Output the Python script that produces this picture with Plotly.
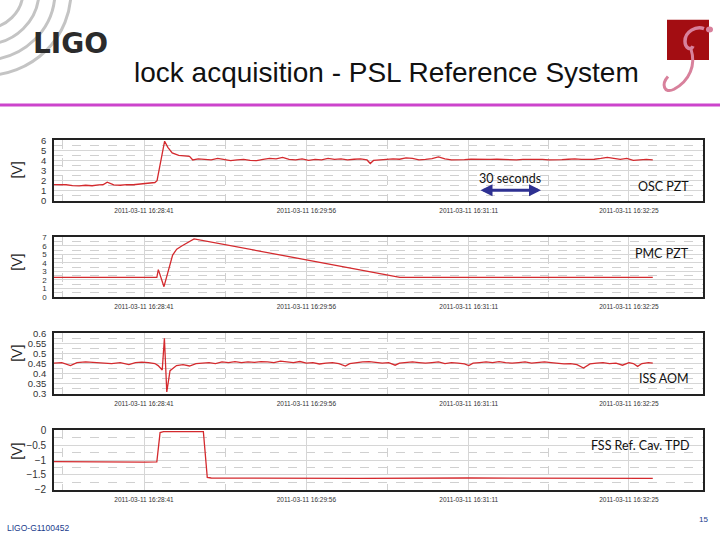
import plotly.graph_objects as go

W, H = 720, 540

# ---------------- data (seconds relative to 2011-03-11 16:28:41) ----------------
tick_times = [0, 75, 150, 224]
tick_text = ["2011-03-11 16:28:41", "2011-03-11 16:29:56",
             "2011-03-11 16:31:11", "2011-03-11 16:32:25"]
minor_times = [-37.5, 37.5, 112.5, 187]

osc_t = [-42, -39, -36, -33, -30, -27, -24, -21, -19, -17, -14, -11, -8, -5, -2, 1, 3, 5,
         6, 9.5, 11, 13, 16, 19, 21, 22.5, 25, 28, 31, 34, 37, 40, 43, 46, 49, 52, 55, 58,
         61, 64, 67, 70, 73, 76, 79, 82, 85, 88, 91, 94, 97, 100, 103, 104.5, 106, 109,
         112, 115, 118, 121, 124, 127, 130, 133, 136, 139, 142, 145, 148, 151, 154, 157,
         160, 163, 166, 169, 172, 175, 178, 181, 184, 187, 190, 193, 196, 199, 202, 205,
         208, 211, 214, 217, 220, 223, 226, 229, 232, 235]
osc_v = [1.62, 1.63, 1.60, 1.52, 1.48, 1.55, 1.50, 1.58, 1.60, 1.85, 1.58, 1.55, 1.62,
         1.60, 1.68, 1.72, 1.78, 1.82, 2.0, 5.9, 5.3, 4.75, 4.5, 4.45, 4.4, 4.05, 4.15,
         4.1, 4.05, 4.2, 4.1, 3.98, 4.05, 4.1, 4.0, 3.98, 4.1, 4.2, 4.15, 4.3, 4.1, 4.05,
         4.15, 4.0, 4.1, 4.05, 4.2, 4.1, 4.15, 4.05, 4.12, 4.15, 4.05, 3.7, 4.0, 4.05, 4.1,
         4.15, 4.12, 4.25, 4.2, 4.05, 4.1, 4.18, 4.35, 4.15, 4.05, 4.1, 4.08, 4.12, 4.1,
         4.05, 4.1, 4.12, 4.08, 4.1, 4.05, 4.1, 4.12, 4.15, 4.1, 4.05, 4.1, 4.08, 4.12,
         4.15, 4.1, 4.08, 4.12, 4.2, 4.3, 4.2, 4.1, 4.2, 4.0, 4.05, 4.1, 4.05]

pmc_t = [-42, 5.9, 6.6, 9.2, 13.2, 15.1, 17.4, 23.1, 118.2, 235]
pmc_v = [2.3, 2.3, 3.2, 1.2, 4.9, 5.6, 5.97, 6.8, 2.3, 2.3]

iss_t = [-42, -38, -34, -31, -27, -23, -19, -15, -11, -7, -4, -1, 2, 5, 6.5, 7.5, 8.4,
         9.4, 10.5, 12, 13.5, 15, 18, 21, 24, 27, 30, 33, 36, 39, 42, 45, 48, 51, 54, 57,
         60, 63, 66, 69, 72, 75, 78, 81, 84, 87, 90, 93, 95, 98, 101, 104, 107, 110, 113,
         116, 118, 121, 124, 127, 130, 133, 136, 139, 142, 145, 148, 150, 152, 155, 158,
         161, 164, 167, 170, 173, 176, 179, 182, 185, 188, 191, 194, 197, 200, 203, 206,
         209, 212, 215, 218, 221, 224, 226, 228, 230, 233, 235]
iss_v = [.452, .455, .440, .455, .458, .456, .452, .450, .455, .445, .455, .457, .455,
         .450, .440, .430, .418, .575, .310, .415, .430, .440, .445, .438, .450, .452,
         .455, .450, .458, .455, .460, .455, .458, .456, .460, .458, .455, .462, .458,
         .455, .460, .452, .455, .448, .452, .455, .450, .438, .450, .455, .458, .460,
         .455, .452, .455, .442, .452, .456, .458, .455, .452, .455, .458, .450, .455,
         .452, .448, .440, .452, .455, .458, .455, .460, .455, .452, .455, .458, .452,
         .455, .458, .455, .452, .448, .450, .445, .428, .448, .452, .455, .450, .452,
         .442, .455, .450, .436, .450, .455, .452]

fss_t = [-42, -30, -15, 0, 5.9, 7.4, 9, 15, 22, 27.4, 29.2, 31, 60, 100, 150, 200, 235]
fss_v = [-1.05, -1.06, -1.07, -1.07, -1.06, -0.08, -0.05, -0.04, -0.05, -0.05, -1.58,
         -1.60, -1.61, -1.61, -1.60, -1.60, -1.61]

panel_names = ["OSC PZT", "PMC PZT", "ISS AOM", "FSS Ref. Cav. TPD"]

# ---------------- layout helpers ----------------
def px(x):
    return x / W

def py(y):
    return 1 - y / H

X_LEFT, X_RIGHT = 54, 703
panel_px = [(137, 199), (236, 297), (334, 396), (433, 494)]
y_ranges = [[0, 6], [0, 7], [0.3, 0.6], [-2, 0]]
y_dticks = [1, 1, 0.05, 0.5]
y_minor = [0.5, 0.5, 0.025, 0.25]
y_font = [9.5, 8, 9.5, 10]
x_range = [-41.6, 258.2]

series = [(osc_t, osc_v), (pmc_t, pmc_v), (iss_t, iss_v), (fss_t, fss_v)]

fig = go.Figure()
RED = "#d42a2e"

for i, (t, v) in enumerate(series):
    s = "" if i == 0 else str(i + 1)
    fig.add_trace(go.Scatter(x=t, y=v, mode="lines", xaxis="x" + s, yaxis="y" + s,
                             line=dict(color=RED, width=1.3), showlegend=False,
                             hoverinfo="skip"))
    top, bot = panel_px[i]
    fig.layout["xaxis" + s] = dict(
        domain=[px(X_LEFT), px(X_RIGHT)], anchor="y" + s, range=x_range,
        tickmode="array", tickvals=tick_times, ticktext=tick_text,
        tickfont=dict(size=6.5, color="#333", family="Liberation Sans"),
        showgrid=True, gridcolor="#d6d6d6", gridwidth=1,
        minor=dict(tickmode="array", tickvals=minor_times, showgrid=True,
                   gridcolor="#d0d0d0", griddash="dash", gridwidth=1),
        showline=True, mirror=True, linecolor="#222", linewidth=1.6,
        ticks="", ticklabelstandoff=2,
        zeroline=False, fixedrange=True)
    fig.layout["yaxis" + s] = dict(
        domain=[py(bot), py(top)], anchor="x" + s, range=y_ranges[i],
        dtick=y_dticks[i], tick0=y_ranges[i][0],
        tickfont=dict(size=y_font[i], color="#333",
                      family="Liberation Sans Narrow, Liberation Sans"),
        showgrid=True, gridcolor="#d6d6d6", gridwidth=1,
        minor=dict(dtick=y_minor[i], showgrid=True, gridcolor="#d0d0d0",
                   griddash="dash", gridwidth=1),
        showline=True, mirror=True, linecolor="#222", linewidth=1.6,
        ticks="outside", ticklen=4, tickcolor="rgba(0,0,0,0)",
        zeroline=False, fixedrange=True)

def note(x, y, text, size, color="#111", family="Liberation Sans", xanchor="center",
         **kw):
    return dict(x=px(x), y=py(y), xref="paper", yref="paper", text=text,
                xanchor=xanchor, yanchor="middle", showarrow=False,
                font=dict(size=size, color=color, family=family), **kw)

annotations = []
# [V] labels
for yc in [168, 262, 355, 455]:
    annotations.append(note(17, yc, "[V]", 14, color="#222", textangle=-90))
# panel labels
label_y = [184, 253, 380, 449]
for name, yc in zip(panel_names, label_y):
    annotations.append(note(691, yc, name, 12.5, family="Lato", xanchor="right"))
# 30 seconds
annotations.append(note(510, 176, "30 seconds", 12.5, family="Lato"))
annotations.append(dict(x=px(541), y=py(188), xref="paper", yref="paper", text="",
                        showarrow=True, ax=-62, ay=0, arrowhead=2, startarrowhead=2,
                        arrowside="end+start", arrowwidth=3, arrowsize=0.8,
                        startarrowsize=0.8, arrowcolor="#2e3192"))
# title
annotations.append(note(386, 68, "lock acquisition - PSL Reference System", 28))
# LIGO word
annotations.append(note(70, 38, "<b>LIGO</b>", 28, color="#2b2b2b", family="DejaVu Sans"))
# footer
annotations.append(note(5, 533, "LIGO-G1100452", 8.5, color="#1a3c8c", xanchor="left"))
annotations.append(note(703, 524, "15", 8, color="#1a3c8c"))

shapes = []
# LIGO arcs
cx, cy = -15, -15
for r in [38, 54, 70, 86]:
    shapes.append(dict(type="circle", xref="paper", yref="paper",
                       x0=px(cx - r), x1=px(cx + r), y0=py(cy + r), y1=py(cy - r),
                       line=dict(color="#c4c4c4", width=3), layer="below"))
# magenta rule
shapes.append(dict(type="line", xref="paper", yref="paper", x0=px(0), x1=px(720),
                   y0=py(101), y1=py(101), line=dict(color="#cc44cc", width=3)))
# right logo red square
shapes.append(dict(type="rect", xref="paper", yref="paper", x0=px(667), x1=px(709),
                   y0=py(55), y1=py(14), fillcolor="#a30d12", line=dict(width=0)))

def path_px(cmds):
    out = []
    for c in cmds:
        if isinstance(c, str):
            out.append(c)
        else:
            out.append(f"{px(c[0]):.5f},{py(c[1]):.5f}")
    return " ".join(out)

pink = "#d8819c"
shapes.append(dict(type="path", xref="paper", yref="paper",
                   path=path_px(["M", (704, 23), "C", (696, 20), (685, 26), (685, 36),
                                 "C", (685, 43), (691, 46), (693, 41)]),
                   line=dict(color=pink, width=3.5)))
shapes.append(dict(type="path", xref="paper", yref="paper",
                   path=path_px(["M", (691, 44), "C", (696, 60), (690, 76), (674, 85),
                                 "C", (664, 90), (661, 80), (668, 72)]),
                   line=dict(color=pink, width=3)))
shapes.append(dict(type="circle", xref="paper", yref="paper", x0=px(706), x1=px(713),
                   y0=py(27), y1=py(21), fillcolor=pink, line=dict(width=0)))

fig.update_layout(width=W, height=H, margin=dict(l=0, r=0, t=0, b=0),
                  paper_bgcolor="white", plot_bgcolor="white",
                  annotations=annotations, shapes=shapes, showlegend=False)

fig.write_html("out.html", config={"displayModeBar": False},
               post_script="document.body.style.margin='0';document.body.style.overflow='hidden';")
